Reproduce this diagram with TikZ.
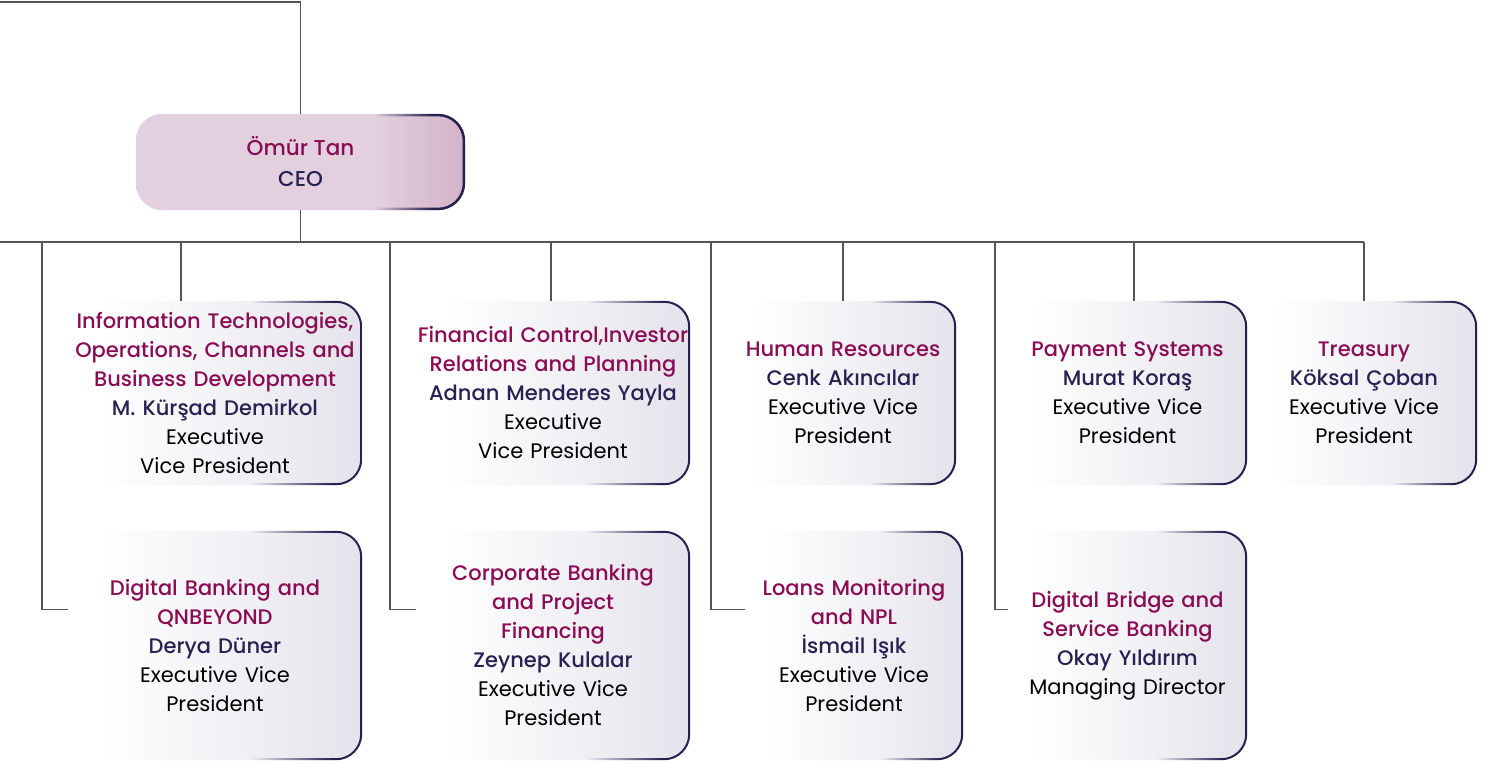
\documentclass[tikz,border=0pt]{standalone}
\usepackage{fontspec}
\setmainfont{Poppins}
\newfontfamily\medfont{Poppins Medium}
\usepackage{tikz}
\usetikzlibrary{positioning,calc}
\definecolor{deptred}{RGB}{138,12,84}
\definecolor{namenavy}{RGB}{40,34,82}
\definecolor{rimnavy}{RGB}{38,32,78}
\definecolor{linegray}{RGB}{85,85,85}
\definecolor{cardgray}{RGB}{228,227,235}
\definecolor{ceopink}{RGB}{227,208,222}
\definecolor{ceodark}{RGB}{210,178,200}
% a shaded path spans 25bp..75bp of these shadings
\pgfdeclarehorizontalshading{cardfill}{100bp}{color(0bp)=(white); color(30bp)=(white); color(75bp)=(cardgray); color(100bp)=(cardgray)}
\pgfdeclarehorizontalshading{cardrim}{100bp}{color(0bp)=(white); color(30bp)=(white); color(56bp)=(cardgray!55!white); color(70bp)=(rimnavy); color(100bp)=(rimnavy)}
\pgfdeclarehorizontalshading{ceofill}{100bp}{color(0bp)=(ceopink); color(61bp)=(ceopink); color(75bp)=(ceodark); color(100bp)=(ceodark)}
\pgfdeclarehorizontalshading{ceorim}{100bp}{color(0bp)=(ceopink); color(61bp)=(ceopink); color(70bp)=(rimnavy); color(100bp)=(rimnavy)}

\begin{document}
\begin{tikzpicture}[
  x=1pt, y=-1pt,
  card/.style={shade, shading=cardfill, rounded corners=26pt, inner sep=0pt, align=center,
    font=\fontsize{21}{29}\selectfont},
  toprow/.style={card, minimum height=184pt},
  lowrow/.style={card, minimum height=229pt},
  link/.style={draw=linegray, line width=1.1pt},
  every node/.style={text=black}
]
  \useasboundingbox (0,0) rectangle (1493,763);

  % CEO
  \node[shade, shading=ceofill, rounded corners=27pt, minimum width=329pt, minimum height=96pt,
    align=center, font=\medfont\fontsize{21.5}{31}\selectfont] (ceo) at (300.5,162)
    {\textcolor{deptred}{Ömür Tan}\\ \textcolor{namenavy}{CEO}};

  % executive vice presidents
  \node[toprow, minimum width=294pt, text width=292pt] (itc) at (215,393)
    {\color{deptred}\medfont Information Technologies,\\ Operations, Channels and\\ Business Development\\
     \color{namenavy}M. Kürşad Demirkol\\ \color{black}\normalfont Executive\\ Vice President};
  \node[toprow, minimum width=274pt, text width=272pt] (fin) at (553,393)
    {\color{deptred}\medfont Financial Control,Investor\\ Relations and Planning\\
     \color{namenavy}Adnan Menderes Yayla\\ \color{black}\normalfont Executive\\ Vice President};
  \node[toprow, minimum width=226pt, text width=224pt] (hr) at (843,393)
    {\color{deptred}\medfont Human Resources\\ \color{namenavy}Cenk Akıncılar\\
     \color{black}\normalfont Executive Vice\\ President};
  \node[toprow, minimum width=239pt, text width=237pt] (pay) at (1127.5,393)
    {\color{deptred}\medfont Payment Systems\\ \color{namenavy}Murat Koraş\\
     \color{black}\normalfont Executive Vice\\ President};
  \node[toprow, minimum width=226pt, text width=224pt] (trs) at (1364,393)
    {\color{deptred}\medfont Treasury\\ \color{namenavy}Köksal Çoban\\
     \color{black}\normalfont Executive Vice\\ President};
  \node[lowrow, minimum width=294pt, text width=292pt] (dig) at (215,645.5)
    {\color{deptred}\medfont Digital Banking and\\ QNBEYOND\\ \color{namenavy}Derya Düner\\
     \color{black}\normalfont Executive Vice\\ President};
  \node[lowrow, minimum width=274pt, text width=272pt] (corp) at (553,645.5)
    {\color{deptred}\medfont Corporate Banking\\ and Project\\ Financing\\ \color{namenavy}Zeynep Kulalar\\
     \color{black}\normalfont Executive Vice\\ President};
  \node[lowrow, minimum width=218pt, text width=216pt] (npl) at (854,645.5)
    {\color{deptred}\medfont Loans Monitoring\\ and NPL\\ \color{namenavy}İsmail Işık\\
     \color{black}\normalfont Executive Vice\\ President};
  \node[lowrow, minimum width=239pt, text width=237pt] (dbs) at (1127.5,645.5)
    {\color{deptred}\medfont Digital Bridge and\\ Service Banking\\ \color{namenavy}Okay Yıldırım\\
     \color{black}\normalfont Managing Director};

  % fading right-hand rims
  \shade[shading=ceorim, even odd rule, rounded corners=27pt]
    (ceo.south west) rectangle (ceo.north east)
    [rounded corners=24.5pt] ([shift={(2.5pt,2.5pt)}]ceo.south west) rectangle ([shift={(-2.5pt,-2.5pt)}]ceo.north east);
  \foreach \c in {itc,fin,hr,pay,trs,dig,corp,npl,dbs}
    \shade[shading=cardrim, even odd rule, rounded corners=26pt]
      (\c.south west) rectangle (\c.north east)
      [rounded corners=24pt] ([shift={(2pt,2pt)}]\c.south west) rectangle ([shift={(-2pt,-2pt)}]\c.north east);

  % connectors
  \coordinate (topl) at (0,2);
  \coordinate (bus) at (0,242);
  \foreach \name/\xx in {itd/181, find/551, hrd/843, payd/1134, trsd/1364,
                         digd/42, corpd/390, npld/711, dbsd/995}
    \coordinate (\name) at (\xx,242);
  \draw[link] (topl) -| (ceo.north);
  \draw[link] (ceo.south) -- (ceo.south |- bus);
  \draw[link] (bus) -- (trsd);
  \foreach \d/\c in {itd/itc, find/fin, hrd/hr, payd/pay, trsd/trs}
    \draw[link] (\d) -- (\d |- \c.north);
  \foreach \d/\c in {digd/dig, corpd/corp, npld/npl, dbsd/dbs}
    \draw[link] (\d) |- ([yshift=-79pt]\c.north west);
\end{tikzpicture}
\end{document}
